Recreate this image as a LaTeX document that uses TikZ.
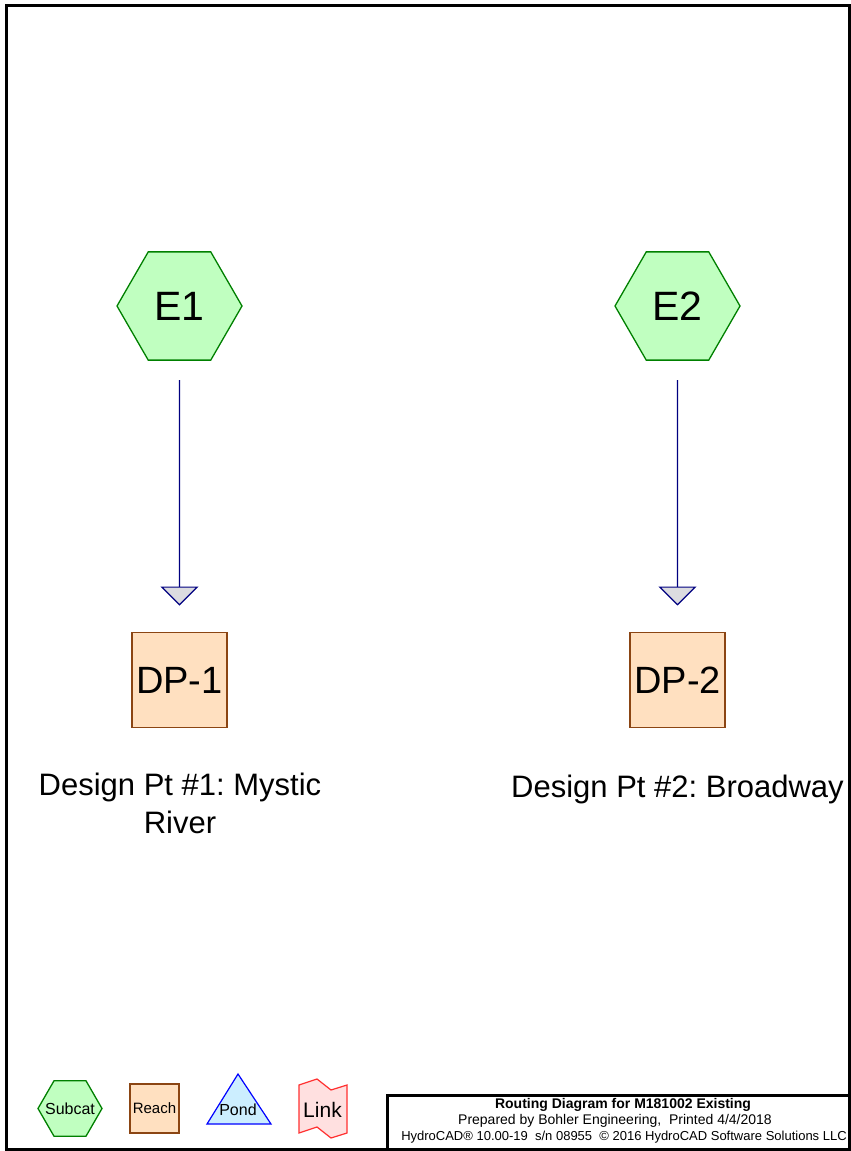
\documentclass[tikz,border=0pt]{standalone}
\usepackage{fontspec}
\setmainfont{Liberation Sans}
\usetikzlibrary{shapes.geometric,arrows.meta}
\definecolor{subfill}{HTML}{C0FFC0}
\definecolor{subline}{HTML}{008000}
\definecolor{reachfill}{HTML}{FFE0C0}
\definecolor{reachline}{HTML}{8B4513}
\definecolor{pondfill}{HTML}{CCEEFF}
\definecolor{pondline}{HTML}{0000FF}
\definecolor{linkfill}{HTML}{FFE0E0}
\definecolor{linkline}{HTML}{FF3030}
\definecolor{flowline}{HTML}{000080}
\definecolor{tipfill}{HTML}{DCDCE0}
\frenchspacing
\begin{document}
\begin{tikzpicture}[x=1pt,y=-1pt,
  subcat/.style={regular polygon, regular polygon sides=6, draw=subline, fill=subfill,
    line width=1.3pt, inner sep=0pt, outer sep=0pt},
  reach/.style={rectangle, draw=reachline, fill=reachfill, line width=1.3pt,
    inner sep=0pt, outer sep=0pt},
  flow/.style={draw=flowline, line width=1.2pt,
    -{Triangle[width=38pt,length=19pt,fill=tipfill]},
    shorten <=20pt, shorten >=27pt},
  bigtxt/.style={font=\fontsize{41}{49}\selectfont},
  boxtxt/.style={font=\fontsize{38}{46}\selectfont},
  labeltxt/.style={font=\fontsize{31}{38}\selectfont, align=center, inner sep=0pt},
  titletxt/.style={font=\fontsize{14}{16}\selectfont, inner sep=0pt, anchor=base},
  frame/.style={draw=black, line width=3pt}
]
\useasboundingbox (0,0) rectangle (851,1151);

% outer frame and title block
\draw[frame] (6.5,5) rectangle (849.5,1149.5);
\draw[frame] (387,1095.5) rectangle (849.5,1149.5);
\node[titletxt, font=\bfseries\fontsize{14}{16}\selectfont] (t1) at (623,1108.5) {Routing Diagram for M181002 Existing};
\node[titletxt] (t2) at (615,1124.5) {Prepared by Bohler Engineering,\ \ Printed 4/4/2018};
\node[titletxt, font=\fontsize{13}{15}\selectfont] (t3) at (624,1140.5) {HydroCAD® 10.00-19\ \ s/n 08955\ \ © 2016 HydroCAD Software Solutions LLC};

% subcatchments
\node[subcat, minimum size=125pt, bigtxt] (E1) at (179.5,306) {E1};
\node[subcat, minimum size=125pt, bigtxt] (E2) at (677.5,306) {E2};

% reaches
\node[reach, minimum size=95pt, boxtxt] (DP1) at (179.5,680) {DP-1};
\node[reach, minimum size=95pt, boxtxt] (DP2) at (677.5,680) {DP-2};

% reach labels
\node[labeltxt] (L1) at (180,803) {Design Pt \#1: Mystic\\River};
\node[labeltxt, anchor=base] (L2) at (677.5,797) {Design Pt \#2: Broadway};

% flow connectors
\draw[flow] (E1) -- (DP1);
\draw[flow] (E2) -- (DP2);

% legend
\node[subcat, minimum size=64pt] (lsub) at (70,1108.5) {};
\node[font=\fontsize{16}{19}\selectfont, inner sep=0pt] (lsubt) at (lsub.center) {Subcat};
\node[reach, minimum size=49pt] (lreach) at (154.5,1108.5) {};
\node[font=\fontsize{15}{18}\selectfont, inner sep=0pt] (lreacht) at (lreach.center) {Reach};
\draw[draw=pondline, fill=pondfill, line width=1.2pt] (238,1074) -- (271,1124) -- (207,1124) -- cycle;
\node[font=\fontsize{16}{19}\selectfont, inner sep=0pt] (lpond) at (238,1110) {Pond};
\draw[draw=linkline, fill=linkfill, line width=1.2pt]
  (299,1085) -- (317,1079) -- (331,1090) -- (347,1085) -- (347,1133)
  -- (331,1138) -- (317,1127) -- (299,1133) -- cycle;
\node[font=\fontsize{21}{25}\selectfont, inner sep=0pt] (llink) at (322.5,1110) {Link};
\end{tikzpicture}
\end{document}
